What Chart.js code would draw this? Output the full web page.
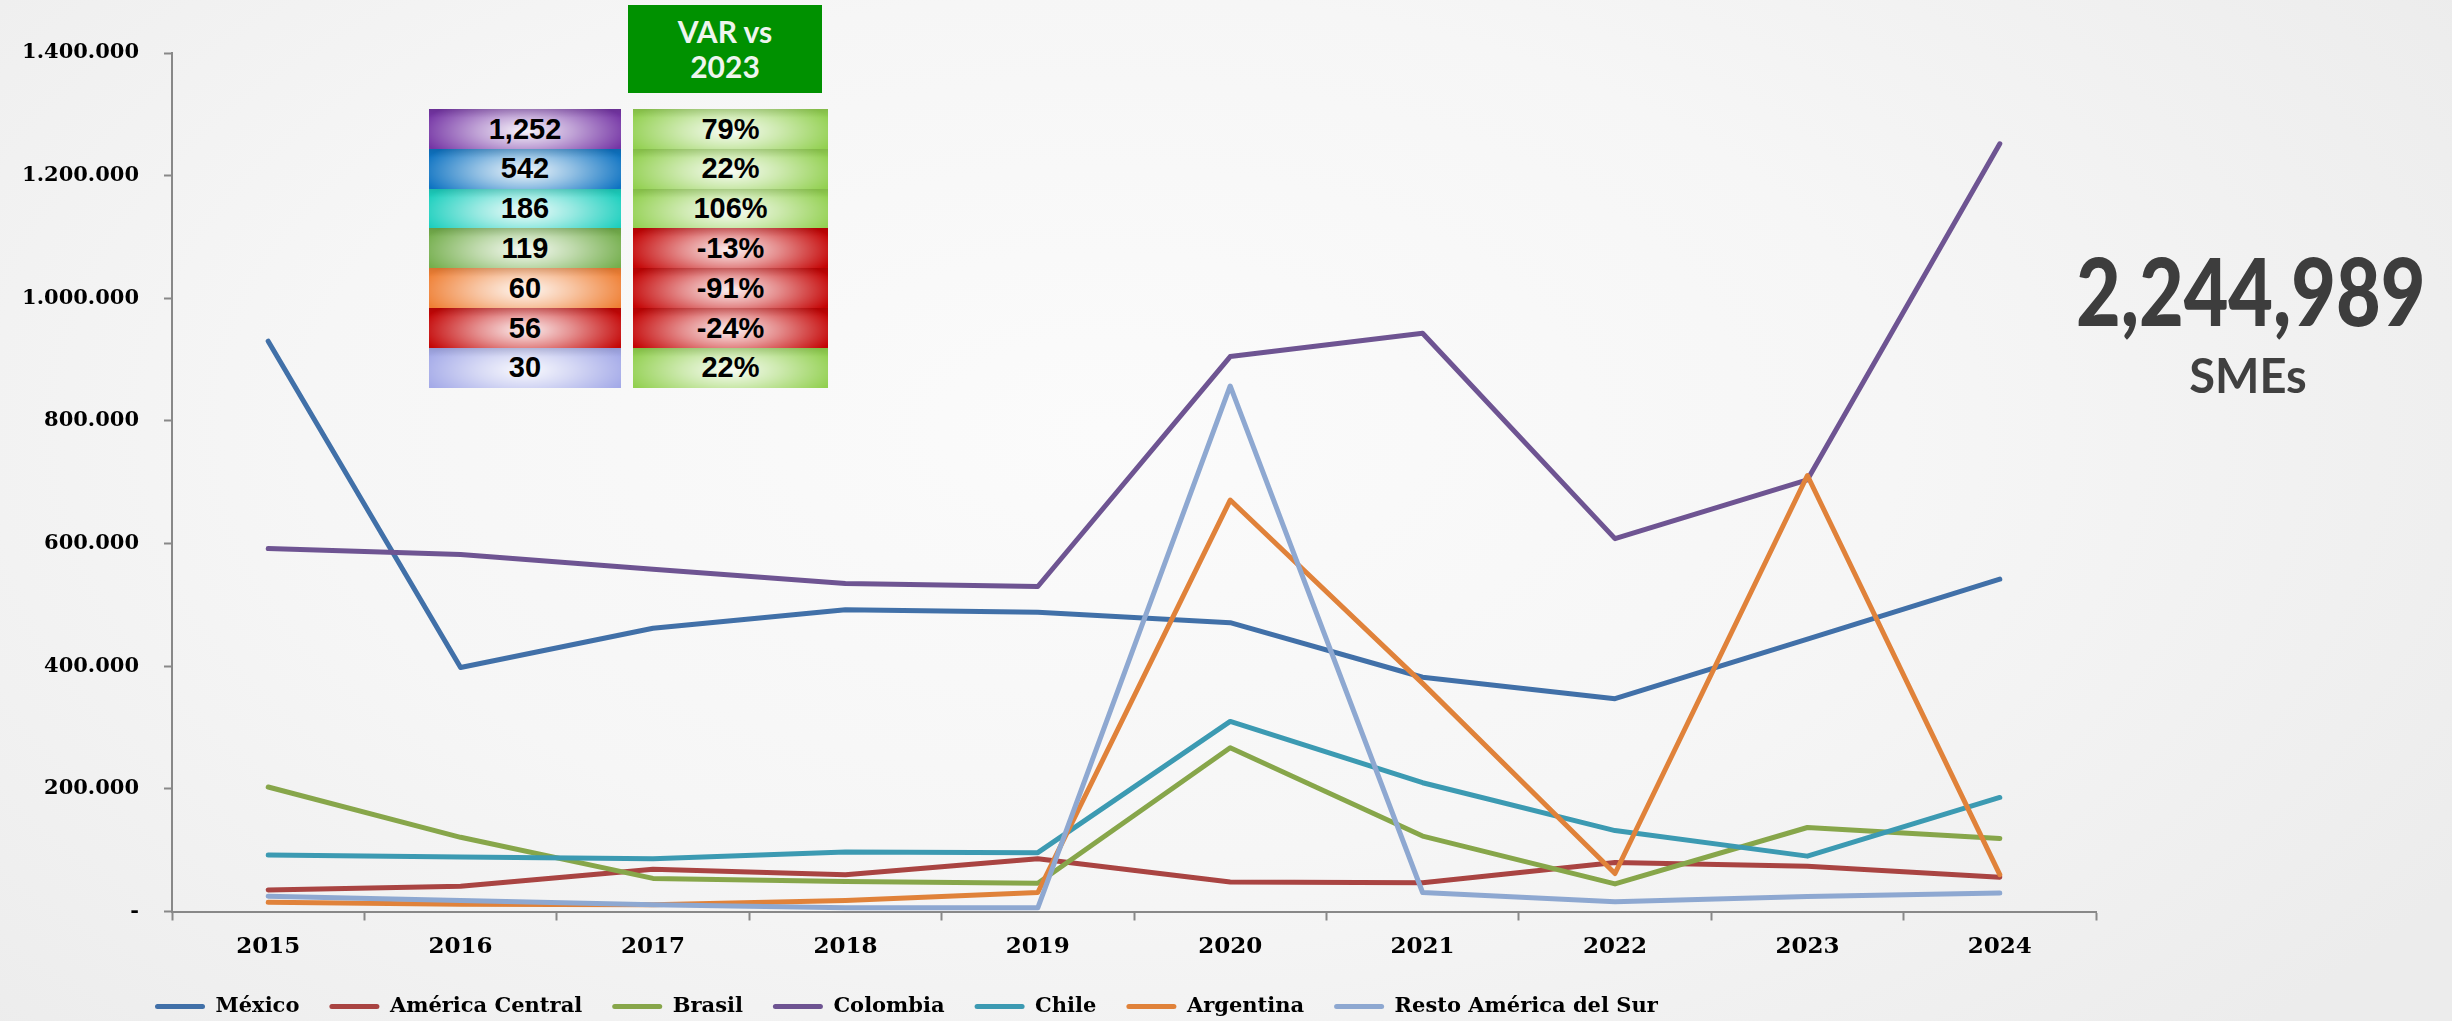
<!DOCTYPE html>
<html><head><meta charset="utf-8">
<script src="https://cdn.jsdelivr.net/npm/chart.js@4"></script>
<style>
html,body{margin:0;padding:0;}
body{width:2452px;height:1021px;overflow:hidden;position:relative;
  background: radial-gradient(ellipse 65% 85% at 45% 42%, #fbfbfb 0%, #f6f6f6 50%, #ececec 100%);}
#c{position:absolute;left:0;top:0;}
.cell{position:absolute;display:flex;align-items:center;justify-content:center;
  font-family:"Liberation Sans",Arial,sans-serif;font-weight:bold;font-size:29px;color:#000;box-sizing:border-box;}
#hdr{position:absolute;left:628px;top:5px;width:194px;height:88px;background:#009100;
  display:flex;flex-direction:column;align-items:center;justify-content:center;
  font-family:Lato,"Open Sans",sans-serif;font-weight:bold;font-size:30px;line-height:35px;color:#eef5ee;}
#big{position:absolute;left:2040px;width:400px;top:243px;text-align:center;
  font-family:Lato,"Open Sans",sans-serif;font-weight:900;font-size:94px;line-height:1;color:#3d3d3d;
  transform:scaleX(0.82);transform-origin:center;}
#sme{position:absolute;left:2148px;width:200px;top:352px;text-align:center;
  font-family:Lato,"Open Sans",sans-serif;font-weight:bold;font-size:47px;line-height:1;color:#404040;}
</style></head><body>
<canvas id="c" width="2452" height="1021"></canvas>
<div id="hdr"><div>VAR vs</div><div>2023</div></div>
<div id="big">2,244,989</div>
<div id="sme">SMEs</div>
<div id="tbl"></div>
<script>
const years = ['2015','2016','2017','2018','2019','2020','2021','2022','2023','2024'];
const seriesNames = ['México','América Central','Brasil','Colombia','Chile','Argentina','Resto América del Sur'];
const mexico         = [930000, 398000, 462000, 492000, 488000, 471000, 382000, 347000, 444000, 542000];
const americaCentral = [35000, 41000, 69000, 60000, 86000, 48000, 47000, 80000, 73700, 56000];
const brasil         = [203000, 121000, 54000, 49000, 46000, 267000, 123000, 45000, 137000, 119000];
const colombia       = [592000, 582000, 558000, 535000, 530000, 905000, 943000, 608000, 704000, 1252000];
const chile          = [92000, 89000, 86000, 97000, 96000, 310000, 210000, 132000, 90300, 186000];
const argentina      = [15000, 12000, 11000, 18000, 31000, 671000, 372000, 62000, 711000, 60000];
const resto          = [25000, 18000, 11000, 6000, 6000, 857000, 31000, 16000, 24600, 30000];
const yTicks = [0, 200000, 400000, 600000, 800000, 1000000, 1200000, 1400000];
const tableValues = ['1,252','542','186','119','60','56','30'];
const tableVar    = ['79%','22%','106%','-13%','-91%','-24%','22%'];

const lineColors = ['#4170A8','#A94442','#87A64A','#6E5492','#3C9AB2','#E0823A','#8EA8D1'];
const seriesData = [mexico, americaCentral, brasil, colombia, chile, argentina, resto];

// table overlay
const leftColors = ['#7535A5','#0E73C2','#1CCFBE','#74AE4C','#EF7F34','#C40606','#A4AAE8'];
const tbl = document.getElementById('tbl');
function cellBg(c){
  return 'linear-gradient(to bottom, rgba(0,0,0,0.10) 0%, rgba(0,0,0,0) 22%), radial-gradient(ellipse 55% 90% at 50% 55%, rgba(255,255,255,0.95) 0%, rgba(255,255,255,0.55) 45%, rgba(255,255,255,0) 100%), ' + c;
}
tableValues.forEach((v,i)=>{
  const top = 109 + i*39.8;
  const a = document.createElement('div');
  a.className='cell'; a.textContent=v;
  a.style.cssText += `left:429px;top:${top}px;width:192px;height:40px;background:${cellBg(leftColors[i])};`;
  tbl.appendChild(a);
  const b = document.createElement('div');
  b.className='cell'; b.textContent=tableVar[i];
  const neg = tableVar[i].startsWith('-');
  b.style.cssText += `left:633px;top:${top}px;width:195px;height:40px;background:${cellBg(neg ? '#C40404' : '#92D050')};`;
  tbl.appendChild(b);
});

function fmt(v){
  if (v === 0) return '-';
  return String(v).replace(/\B(?=(\d{3})+(?!\d))/g, '.');
}

const datasets = seriesNames.map((n,i)=>({
  label: n,
  data: seriesData[i],
  borderColor: lineColors[i],
  backgroundColor: lineColors[i],
  borderWidth: 5,
  pointRadius: 0,
  pointHoverRadius: 0,
  tension: 0,
  borderJoinStyle: 'round',
  borderCapStyle: 'round',
  order: seriesNames.length - i
}));

const legendShift = {
  id: 'legendShift',
  afterLayout(chart){
    const l = chart.legend;
    if (l) { l.left += 125; l.right += 125; }
  }
};

new Chart(document.getElementById('c'), {
  type: 'line',
  data: { labels: years, datasets },
  plugins: [legendShift],
  options: {
    responsive: false,
    animation: false,
    layout: { padding: { left: 0, right: 356, top: 53, bottom: -6 } },
    plugins: {
      tooltip: { enabled: false },
      legend: {
        position: 'bottom',
        align: 'start',
        labels: {
          sort: (a,b) => a.datasetIndex - b.datasetIndex,
          generateLabels: (chart) => Chart.defaults.plugins.legend.labels.generateLabels(chart).map(l => ({...l, lineWidth: 0, borderRadius: 2.5})),
          useBorderRadius: true,
          borderRadius: 2.5,
          boxWidth: 50,
          boxHeight: 5,
          padding: 30,
          color: '#000',
          font: { family: '"DejaVu Serif", serif', weight: 'bold', size: 21 }
        }
      }
    },
    scales: {
      x: {
        offset: true,
        grid: { offset: true, drawOnChartArea: false, drawTicks: true, tickLength: 9, color: '#888', tickWidth: 2 },
        border: { color: '#888', width: 2 },
        ticks: { color: '#000', padding: 13, font: { family: '"DejaVu Serif", serif', weight: 'bold', size: 23 } },
        afterFit: (s) => { s.height = 54.5; }
      },
      y: {
        min: 0, max: 1400000,
        afterBuildTicks: (s) => { s.ticks = yTicks.map(v => ({ value: v })); },
        grid: { drawOnChartArea: false, drawTicks: true, tickLength: 8, color: '#888', tickWidth: 2 },
        border: { color: '#888', width: 2 },
        ticks: { color: '#000', padding: 25, callback: (v) => fmt(v), font: { family: '"DejaVu Serif", serif', weight: 'bold', size: 21 } },
        afterFit: (s) => { s.width = 172; }
      }
    }
  }
});
</script>
</body></html>
